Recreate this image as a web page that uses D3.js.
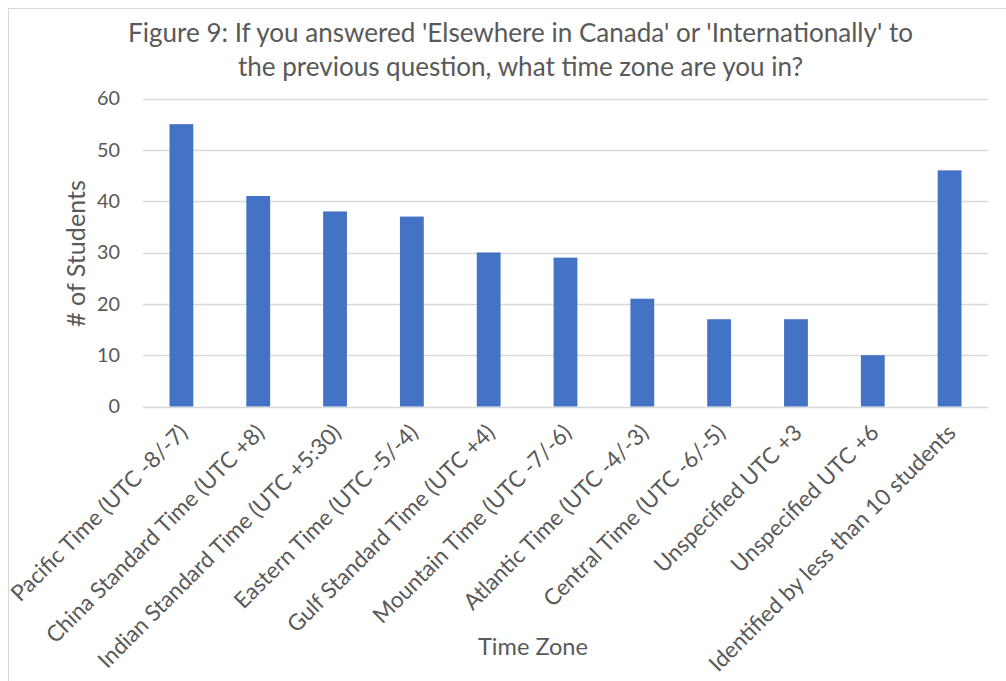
<!DOCTYPE html>
<html>
<head>
<meta charset="utf-8">
<script src="https://cdn.jsdelivr.net/npm/d3@7"></script>
<style>
  html, body { margin: 0; padding: 0; background: #fff; }
  svg { display: block; }
  text { font-family: "Lato", "Open Sans", sans-serif; fill: #595959; }
</style>
</head>
<body>
<svg id="chart" width="1006" height="681"></svg>
<script>
const categories = [
  "Pacific Time (UTC -8/-7)",
  "China Standard Time (UTC +8)",
  "Indian Standard Time (UTC +5:30)",
  "Eastern Time (UTC -5/-4)",
  "Gulf Standard Time (UTC +4)",
  "Mountain Time (UTC -7/-6)",
  "Atlantic Time (UTC -4/-3)",
  "Central Time (UTC -6/-5)",
  "Unspecified UTC +3",
  "Unspecified UTC +6",
  "Identified by less than 10 students"
];
const students = [55, 41, 38, 37, 30, 29, 21, 17, 17, 10, 46];
const yTicks = [0, 10, 20, 30, 40, 50, 60];
const titleLines = [
  "Figure 9: If you answered 'Elsewhere in Canada' or 'Internationally' to",
  "the previous question, what time zone are you in?"
];
const xTitle = "Time Zone";
const yTitle = "# of Students";

const FONT = "Lato, 'Open Sans', sans-serif";
const svg = d3.select("#chart");
const W = 1006, H = 681;
const plot = { left: 143, right: 988, top: 98.5, bottom: 406.5 };

// scale a font-size so that a reference text reaches a target width
function fitSize(sample, target, base = 20) {
  const t = svg.append("text").style("font-family", FONT).style("font-size", base + "px").text(sample);
  const w = t.node().getComputedTextLength();
  t.remove();
  return base * target / w;
}

// chart border
svg.append("rect")
  .attr("x", 8.5).attr("y", 8.5)
  .attr("width", W + 20).attr("height", H + 20)
  .attr("fill", "#fff").attr("stroke", "#d9d9d9").attr("stroke-width", 1);

const x = d3.scaleBand().domain(categories).range([plot.left, plot.right]).paddingInner(0.69).paddingOuter(0.345);
const y = d3.scaleLinear().domain([0, 60]).range([plot.bottom, plot.top]);

// gridlines
svg.append("g").selectAll("line").data(yTicks).join("line")
  .attr("x1", plot.left).attr("x2", plot.right)
  .attr("y1", d => Math.round(y(d)) + 0.5).attr("y2", d => Math.round(y(d)) + 0.5)
  .attr("stroke", "#d9d9d9").attr("stroke-width", 1.3);

// y axis labels
const tickSize = fitSize("60", 23);
const yAxis = d3.axisLeft(y).tickValues(yTicks).tickSize(0).tickPadding(0);
const gy = svg.append("g").attr("transform", `translate(120,0)`).call(yAxis);
gy.select(".domain").remove();
gy.selectAll("text").style("font-size", tickSize + "px").attr("fill", "#595959")
  .style("font-family", FONT);

// bars
svg.append("g").selectAll("rect").data(students).join("rect")
  .attr("x", (d, i) => x(categories[i]))
  .attr("width", x.bandwidth())
  .attr("y", d => y(d))
  .attr("height", d => y(0) - y(d))
  .attr("fill", "#4472c4");

// x axis labels
const labelSize = fitSize(categories[10], 338);
const xAxis = d3.axisBottom(x).tickSize(0).tickPadding(0);
const gx = svg.append("g").attr("transform", `translate(0,${plot.bottom})`).call(xAxis);
gx.select(".domain").remove();
gx.selectAll(".tick text")
  .style("font-size", labelSize + "px").attr("fill", "#595959")
  .style("font-family", FONT)
  .attr("text-anchor", "end")
  .attr("dy", "0.35em")
  .attr("transform", "translate(2,22) rotate(-45)")
  .attr("x", 0).attr("y", 0);

// title
const titleSize = fitSize(titleLines[0], 785);
svg.append("g").selectAll("text").data(titleLines).join("text")
  .attr("x", 520.5).attr("y", (d, i) => 42 + i * 34)
  .attr("text-anchor", "middle")
  .style("font-size", titleSize + "px")
  .text(d => d);

// axis titles
svg.append("text").attr("x", 533).attr("y", 655).attr("text-anchor", "middle")
  .style("font-size", fitSize(xTitle, 110) + "px").text(xTitle);
svg.append("text").attr("transform", "translate(85,253.5) rotate(-90)")
  .attr("text-anchor", "middle").style("font-size", fitSize(yTitle, 147) + "px").text(yTitle);
</script>
</body>
</html>
